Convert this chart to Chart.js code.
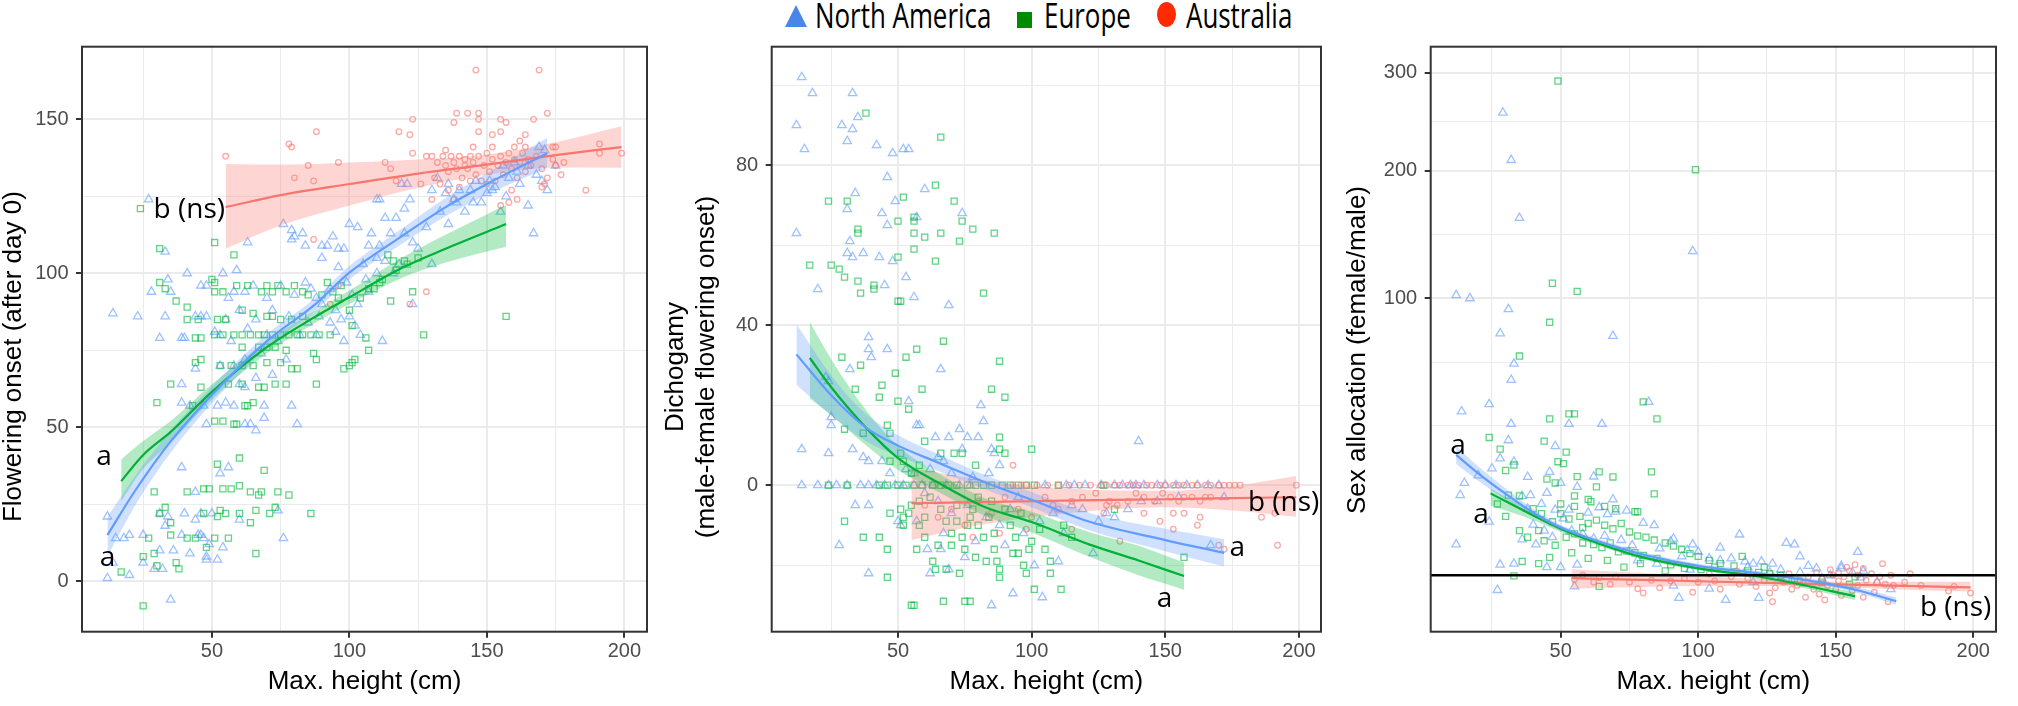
<!DOCTYPE html>
<html>
<head>
<meta charset="utf-8">
<script src="https://cdn.jsdelivr.net/npm/chart.js@4.4.1/dist/chart.umd.min.js"></script>
<style>
html,body{margin:0;padding:0;background:#fff;width:2018px;height:706px;overflow:hidden;position:relative}
canvas{position:absolute;left:0;top:0}
.lt{position:absolute;top:-3px;font-family:"Open Sans",sans-serif;font-size:35px;line-height:1;white-space:nowrap;color:#000;transform:scaleX(0.74);transform-origin:left top}
.tri{position:absolute;width:22px;height:22px;background:#4A86E8;clip-path:polygon(50% 0,100% 100%,0 100%)}
.sq{position:absolute;width:15px;height:16px;background:#008A00}
.ci{position:absolute;width:19px;height:25px;border-radius:50%;background:#FF2A00}
</style>
</head>
<body>
<div id="legend">
  <div class="tri" style="left:785px;top:5px"></div>
  <span class="lt" style="left:815px">North America</span>
  <div class="sq" style="left:1017px;top:12px"></div>
  <span class="lt" style="left:1044px">Europe</span>
  <div class="ci" style="left:1157px;top:2px"></div>
  <span class="lt" style="left:1186px">Australia</span>
</div>
<canvas id="c1" width="2018" height="706"></canvas>
<canvas id="c2" width="2018" height="706"></canvas>
<canvas id="c3" width="2018" height="706"></canvas>
<script>
// ---------------- shared axis data ----------------
const xTickMajor = [50, 100, 150, 200];
const xTickMinor = [25, 75, 125, 175];
const xLimits = [2.75, 208.25];
const xTitle = 'Max. height (cm)';
const seriesNames = ['North America', 'Europe', 'Australia'];

// ---------------- panel 1: flowering onset ----------------
const p1YTitle = ['Flowering onset (after day 0)'];
const p1YMajor = [0, 50, 100, 150];
const p1YMinor = [25, 75, 125];
const p1YLimits = [-16.4, 173.6];
const p1NorthAmerica = [[27,124],[14,87],[23,86],[28,94],[33,86],[31,79],[33,107],[34,98],[35,94],[41,100],[39,79],[40,79],[46,96],[48,96],[44,86],[46,86],[48,86],[54,100],[59,101],[63,110],[56,92],[58,94],[62,94],[51,81],[53,80],
[39,64],[44,69],[39,58],[42,57],[47,57],[48,51],[52,57],[55,58],[58,57],[53,70],[62,51],[64,51],[66,49],[69,53],[69,57],[79,57],[81,51],[60,64],[62,72],
[76,116],[79,114],[80,112],[79,111],[83,113],[84,109],[90,109],[90,105],[92,109],[94,112],[96,108],[98,108],[96,102],[100,116],[103,115],[108,113],[107,109],[111,109],[113,118],[115,113],[117,118],[120,121],[120,113],[119,129],[121,129],[122,124],[123,110],[110,124],[111,124],[105,103],[110,105],[116,100],[123,90],
[112,78],[104,80],[102,83],[97,85],[95,88],[90,90],[88,92],[86,95],[84,97],[93,95],[99,97],[106,98],[101,93],
[132,131],[136,129],[135,126],[136,116],[138,124],[139,123],[140,127],[144,127],[145,123],[148,123],[150,126],[152,127],[153,128],[157,125],[158,131],[161,133],[165,135],[168,132],[169,141],[171,140],[165,122],[167,113],[172,127],[156,135],[151,130],[130,103],
[12,21],[15,14],[12,1],[14,6],[18,14],[20,15],[20,2],[25,15],[25,6],[29,4],[32,4],[31,10],[36,10],[35,-6],[39,15],[42,9],[44,20],[46,15],[47,14],[48,7],[52,7],[54,11],[49,12],[60,20],[53,35],[56,37],[39,37],[44,29],[50,22],[74,23],[76,14],[31,22],[33,18],[34,21],[40,22],[46,22],[45,15],[48,8],
[65,96],[70,92],[72,88],[75,96],[78,86],[80,93],[82,80],[85,84],[88,80],[66,85],[70,80],[74,78],[77,72],[60,88],[63,82],[57,78],[55,85],[68,74],[72,67],[66,66],[62,63],[58,70],[89,86],[93,84],[95,81],[98,78],[100,86],[103,90],[107,94],[110,100],[113,104],[118,103],[125,108],[128,115],[133,120],[130,127],[142,120],[146,130],[155,120],[162,129],[160,136],[170,130],[175,135]];
const p1Europe = [[24,121],[31,108],[51,110],[58,106],[50,98],[51,97],[31,97],[33,95],[37,91],[41,89],[41,85],[45,85],[44,79],[46,79],[44,71],[46,72],[35,64],[46,63],[30,58],[43,57],[51,52],[54,52],[58,51],[59,51],[62,57],[63,57],[65,58],
[52,38],[60,40],[69,36],[64,29],[60,31],[67,28],[78,28],[74,29],[68,29],[57,30],[54,30],[49,30],[47,30],[41,29],[29,29],[33,24],[31,22],[35,19],[35,15],[41,14],[44,14],[51,14],[56,14],[48,11],[38,4],[37,6],[30,5],[29,9],[25,8],[27,14],[17,3],[25,-8],[66,9],[64,19],[66,23],[71,22],[73,24],[55,22],[53,23],[47,22],[86,22],[60,22],[52,21],
[51,94],[54,94],[59,96],[63,96],[68,94],[70,96],[72,94],[74,96],[77,94],[80,96],[83,94],[85,93],
[51,80],[54,80],[58,80],[61,80],[64,80],[67,80],[69,80],[72,80],[75,80],[78,80],[81,80],[83,80],[86,80],[89,80],[93,80],
[52,85],[55,85],[61,88],[65,87],[70,86],[72,86],[75,85],[79,85],[83,86],
[53,70],[57,70],[61,70],[65,70],[70,71],[75,71],[79,69],[81,69],
[56,64],[61,64],[67,63],[69,63],[73,64],[77,64],[88,64],
[61,76],[67,76],[70,76],[73,76],[77,75],[87,74],[88,72],[98,69],[101,71],
[90,93],[94,94],[96,92],[100,88],[101,83],[106,79],[107,75],[109,95],[115,91],[120,104],[125,105],[123,94],[127,80],[112,98],[116,104],[157,86],[114,106],[107,95],[102,72],[100,70],
[92,97],[97,96],[104,92],[111,97],[117,101],[121,103]];
const p1Australia = [[55,138],[78,142],[79,141],[80,131],[85,135],[88,146],[87,130],[87,111],[96,136],[93,90],[96,96],[122,90],[128,94],
[113,136],[115,134],[117,130],[118,146],[122,145],[123,150],[123,139],[126,129],[128,138],[130,124],[131,131],
[146,166],[169,166],[172,152],[139,152],[138,149],[143,152],[147,152],[147,150],[155,150],[157,149],[167,150],[147,146],[155,146],[152,145],[164,145],
[174,141],[175,141],[191,142],[191,139],[199,139],[186,127],[177,132],[178,136],[175,135],[171,129],[155,122],[158,123],
[130,138],[132,136],[134,138],[135,135],[136,133],[137,138],[138,136],[139,134],[140,138],[141,131],[142,137],[143,134],[144,138],[145,136],[146,132],[147,138],[148,130],[149,135],[150,139],[151,133],[152,137],[153,130],[154,135],[155,138],[156,132],[157,136],[158,139],[159,134],[160,137],[161,131],[162,136],[163,139],[164,133],[165,137],[166,135],[168,138],[170,134],[172,131],[174,137],[160,141],[164,141],[140,128],[144,130],[150,129],[133,129],[136,127],[138,124],[142,135],[159,127],[161,124],[170,128],[135,140],[145,141],[152,141],[162,143]];
// fitted curves: [x, fit, lower, upper]
const p1FitNorthAmerica = [[12,15,8,21],[22,29.3,24.5,34],[35,45.4,41.8,49],[50,60.5,57.8,63.2],[70,78,75.8,80.2],[87,89.5,87.4,91.6],[100,100.2,98,102.4],[119,112,109.5,114.5],[135,121.5,118.5,124.5],[150,129,125.5,132.5],[172,139,134.3,144]];
const p1FitEurope = [[17,32.5,26,39.5],[25,41,36.5,45.5],[35,48.5,45,52],[50,61.5,59,64],[70,76,74,78],[87,85.6,83.6,87.6],[100,92.2,90,94.4],[119,101.7,98.5,105],[135,108,103.5,112.5],[157,116,108.6,122.2]];
const p1FitAustralia = [[55,121.5,108,135.5],[75,125.4,115.5,135.3],[100,129,122,136],[125,132.4,127.8,137],[150,135.3,132,138.6],[175,138.4,134.4,142.6],[199,141,134.3,147.8]];
const p1Labels = [{text:'b (ns)', x:28.8, y:118.1},{text:'a', x:7.9, y:37.9},{text:'a', x:9.2, y:4.8}];

// ---------------- panel 2: dichogamy ----------------
const p2YTitle = ['Dichogamy', '(male-female flowering onset)'];
const p2YMajor = [0, 40, 80];
const p2YMinor = [-20, 20, 60, 100];
const p2YLimits = [-36.6, 109.6];
const p2NorthAmerica = [[14,102],[18,98],[33,98],[12,90],[29,90],[33,89],[35,92],[15,84],[31,86],[42,85],[48,83],[52,84],[54,84],[46,77],[60,74],[34,73],[49,71],[44,68],[31,69],[57,67],[74,68],[46,65],[12,63],[32,61],[37,58],[31,58],[33,57],[43,57],[48,56],[53,52],[45,50],[20,49],[56,47],[69,45],[39,37],[39,34],[40,32],[46,34],[32,29],[66,29],[54,21],[81,20],[82,16],[57,15],[58,15],[73,14],[69,12],[64,12],[76,12],[80,12],[85,9],[86,8],[74,9],[65,7],[67,6],[88,5],[14,9],[24,8],[33,9],[37,7],[39,6],[44,6],[47,3],[53,4],[56,3],[25,17],[25,15],[23,27],[24,26],[140,11],
[14,0],[20,0],[24,0],[27,0],[31,0],[36,0],[39,0],[42,0],[45,0],[49,0],[52,0],[56,0],[59,0],[63,0],[68,0],[73,0],[77,0],[105,0],[113,0],[116,0],[120,0],[126,0],[131,0],[134,0],[137,0],[139,0],[142,0],[147,0],[150,0],[154,0],[158,0],[162,0],[166,0],[170,0],
[34,-5],[39,-5],[28,-15],[39,-22],[50,-9],[51,-10],[57,-9],[61,-16],[62,-22],[66,-16],[67,-12],[69,-21],[75,-18],[79,-14],[85,-30],[93,-27],[104,-28],[101,-20],[110,-19],[115,-5],[119,-6],[125,-9],[128,-7],[131,-8],[123,-17],[136,-6],[141,-4],[147,-4],[155,-3],[167,-15],[172,-3],
[60,-2],[65,-4],[70,-7],[76,-5],[83,-8],[88,-10],[92,-6],[97,-12],[103,-9],[108,-7],[112,-12],[90,-15],[95,-3],[78,2],[84,3],[62,4],[70,3]];
const p2Europe = [[38,93],[66,87],[31,71],[24,71],[71,71],[64,75],[52,72],[56,67],[56,66],[35,64],[35,63],[50,66],[56,63],[60,62],[66,63],[73,61],[78,64],[86,63],[74,66],[50,57],[56,59],[64,56],[17,55],[25,55],[28,54],[30,52],[35,51],[36,48],[41,50],[41,49],[50,46],[51,46],[82,48],[57,34],[67,36],[53,32],[88,31],[29,32],[36,30],[49,28],[44,25],[43,22],[50,21],[59,24],[85,24],[90,22],[54,19],[46,15],[47,13],[37,13],[30,14],[34,24],[60,11],[66,8],[71,8],[74,8],[79,5],[88,12],[88,9],[100,9],[90,8],[51,8],[52,6],[47,6],[55,3],[58,5],
[24,0],[31,0],[43,0],[46,0],[50,0],[53,0],[56,0],[59,0],[63,0],[66,0],[69,0],[72,0],[76,0],[79,0],[82,0],[85,0],[89,0],[92,0],[95,0],[98,0],[101,0],[110,0],[127,0],
[30,-9],[37,-13],[43,-13],[46,-16],[47,-7],[51,-6],[52,-8],[52,-10],[54,-7],[58,-10],[60,-8],[57,-16],[63,-19],[64,-21],[68,-21],[73,-22],[70,-12],[72,-9],[76,-10],[77,-8],[80,-10],[82,-13],[83,-19],[87,-19],[88,-21],[88,-23],[93,-17],[97,-20],[98,-22],[99,-16],[101,-26],[107,-19],[107,-22],[111,-26],[112,-10],[115,-13],[131,-6],[157,-18],[77,-29],[75,-29],[67,-29],[46,-23],[55,-30],[56,-30],[86,-16],[70,-15],
[62,-3],[66,-6],[68,-9],[72,-5],[74,-13],[78,-6],[80,-3],[84,-8],[86,-12],[90,-6],[92,-10],[94,-13],[96,-7],[100,-14],[103,-11],[105,-16],[60,-13],[65,-15],[75,-16],[79,-18],[85,-4],[95,-17],[58,-4],[55,-5]];
const p2Australia = [[93,0],[96,0],[98,0],[102,0],[106,0],[110,0],[114,0],[118,0],[122,0],[126,0],[128,0],[131,0],[133,0],[136,0],[138,0],[140,0],[143,0],[145,0],[148,0],[150,0],[153,0],[155,0],[157,0],[160,0],[162,0],[165,0],[167,0],[170,0],[172,0],[174,0],[176,0],[178,0],[199,0],[93,5],
[115,-4],[119,-3],[124,-2],[129,-4],[132,-5],[136,-4],[139,-2],[142,-3],[146,-4],[149,-2],[152,-3],[155,-4],[157,-3],[160,-3],[163,-4],[165,-3],[167,-3],[142,-7],[148,-9],[153,-7],[153,-11],[157,-7],[163,-8],[162,-10],[133,-14],[170,-15],[172,-16],[186,-8],[192,-15],[191,-7],[115,-11],[108,-5],[128,-5],[127,-7],
[60,-5],[65,-8],[70,-6],[75,-10],[80,-4],[85,-7],[90,-3],[95,-6],[100,-8],[105,-3],[110,-6],[88,-12],[98,-11],[78,-13]];
const p2FitNorthAmerica = [[12,32.7,25.1,40.3],[25,22.5,17.5,27.5],[38,14.4,11,17.8],[50,9.9,7.3,12.5],[66,5.4,3.3,7.5],[82,0.9,-0.9,2.7],[100,-3.6,-5.5,-1.7],[122,-9.2,-11.4,-7],[150,-13.7,-16.5,-10.9],[172,-16.9,-20.3,-13.5]];
const p2FitEurope = [[17,31.8,21.7,40.8],[25,24.5,17.5,31.5],[38,14.4,10,18.8],[50,6.8,3.8,9.8],[66,0.3,-2,2.6],[82,-5.3,-7.5,-3.1],[100,-9.2,-11.8,-6.6],[122,-14.9,-18,-11.8],[140,-18.8,-22.5,-15.1],[157,-22.7,-26.1,-19.3]];
const p2FitAustralia = [[55,-4.5,-13.7,4.3],[80,-4.2,-10,1.5],[100,-4,-8,-0.2],[125,-3.7,-6.3,-1.2],[150,-3.5,-5.5,-1.4],[175,-3.2,-6.3,-0.2],[199,-3,-7.9,2.3]];
const p2Labels = [{text:'b (ns)', x:180.9, y:-6.4},{text:'a', x:174, y:-17.7},{text:'a', x:146.8, y:-30.4}];

// ---------------- panel 3: sex allocation (square-root axis) ----------------
const p3YTitle = ['Sex allocation (female/male)'];
const p3YMajor = [100, 200, 300];
const p3YMinor = [34.31, 62.87, 145.71, 247.47];
const p3YLimits = [-0.694, 330.3];
const p3RefLine = 1;
const p3NorthAmerica = [[29,257],[32,210],[35,159],[98,133],[12,102],[17,100],[31,93],[28,78.5],[69,77],[33,62],[32,54],[24,43],[14,40],[82,44],[32,35],[65,35],[53,35],[31,29],[48,27],[28,23],[33,22],[25,20],[20,18],[15,16],[13.5,13],[38,17.6],[46,19],[50,16],[62,17.7],[69,12],[70,9.4],[56,15],[12,4],[28,1.8],[33,1.9],[27,0.27],[50,1.6],[56,1.8],[45,1.6],[115,5.4],[108,3.6],[98,4],[91,4.8],[132,4.2],[135,4],[158,3.1],[140,1.7],[152,1.5],[156,1.2],[55,0.41],[91,0.44],[93,0.07],[104,0.32],[110,0.04],[122,0.07],
[36,12.8],[39,13],[43,11],[45,13.5],[48,9.8],[51,8.1],[53,9.8],[60,9.2],[64,10.3],[67,8.9],[74,9.6],[80,7.3],[84,6.9],[90,4.4],[96,3.3],[100,3.1],[104,2.4],[108,2.2],[112,2.4],[117,2.1],[120,1.9],[123,2.1],[127,1.9],[130,1.4],[137,1.2],[143,1.5],[148,1.0],[152,1.7],[159,0.87],[165,0.6],[170,0.3],[40,7],[44,6],[47,5],[54,6],[58,5.5],[62,4.8],[66,5.2],[72,4.6],[76,3.9],[86,3.5],[94,2.6],[118,1.6],[126,1.2],[145,0.8],[160,1.3],[137,2.6],[134,0.7],[120,0.6],[97,1.4],[85,1.9],[78,2.2],[41,4.0],[36,4.7],[24,7.5],[38,10]];
const p3Europe = [[49,291],[99,201],[47,110],[56,104.5],[46,85],[35,66],[80,44],[85,37],[46,37],[53,39],[55,39],[24,30],[44,28.7],[28,26],[30,19.4],[33,21],[52,25],[51,21.4],[49,22],[56,17.7],[64,19],[69,17.6],[83,19],[84,13.3],[63,15],[45,17],[48,16],[31,13],[35,12.8],[55,12.8],[60,12],[77,9.4],[78,9.4],[33,0.96],[64,0.41],[36,2.1],[42,1.9],[46,2.5],[44,4.5],[48,3.9],
[40,10],[43,9],[50,9],[53,8],[57,8.5],[60,7.2],[63,7.8],[66,6.9],[69,6.3],[72,7.2],[75,5.8],[78,5.2],[81,5.0],[84,4.6],[88,4.2],[91,3.8],[94,3.4],[97,2.9],[100,2.6],[104,2.2],[108,1.9],[113,1.7],[118,1.3],[122,1.2],[126,1.1],[130,1.0],[52,5],[55,5.5],[58,4.2],[62,4],[65,3.6],[68,4.2],[71,3.1],[74,3.2],[77,3.0],[80,2.7],[85,2.4],[90,1.8],[95,1.5],[101,1.4],[106,1.6],[54,3],[60,2.4],[67,2.2],[73,1.6],[79,1.9],[88,1.3],[35,6],[38,5],[30,8.5],[27,11],[42,6],[55,10.5],[61,11.5],[66,10.5],[70,10],[50,11],[47,7.5],[58,6.5],[124,1.6],[116,2.6],[135,0.8],[145,0.6],[155,0.5],[157,0.9]];
const p3Australia = [[55,0.74],[58,1.0],[64,0.85],[70,0.9],[78,0.32],[80,0.18],[83,0.7],[90,0.66],[95,0.8],[106,0.66],[115,0.5],[121,0.4],[126,0.18],[127,0.02],[131,0.6],[136,0.45],[139,0.08],[142,0.3],[146,0.04],[147,0.45],[151,1.2],[151,0.66],[152,0.12],[158,0.45],[160,0.08],[165,0.6],[169,0.02],[171,0.45],[175,0.6],[177,1.1],[181,0.45],[191,0.24],[193,0.41],[199,0.18],[170,1.0],
[130,0.9],[133,1.1],[137,0.7],[140,0.9],[143,1.2],[145,0.8],[148,1.4],[150,0.3],[153,0.9],[155,1.3],[156,0.25],[158,1.0],[161,0.7],[163,1.1],[164,0.2],[166,0.9],[168,0.5],[160,1.5],[154,1.6],[149,1.0],[144,0.15],[138,0.55],[134,0.3],[128,0.35],[124,0.7],[118,0.8],[112,0.9],[108,0.3],[100,0.6],[98,0.2],[86,0.35],[75,0.6],[68,0.5],[62,0.6],[104,1.1],[114,1.3],[157,1.8],[167,1.9]];
const p3FitNorthAmerica = [[12,24.1,21.3,27],[20,18.6,16.6,20.6],[30,13.3,12,14.6],[41,8.9,8.2,9.6],[50,6.5,6,7],[64,4.4,4.05,4.75],[80,2.8,2.55,3.05],[100,1.7,1.5,1.9],[119,1.2,1.02,1.38],[143,0.62,0.5,0.75],[159,0.24,0.16,0.34],[172,0.025,0.002,0.08]];
const p3FitEurope = [[24.5,13.4,10.6,14.6],[40.6,8.5,7.7,9.3],[50,6.3,5.8,6.8],[64,4.1,3.8,4.4],[80,2.5,2.3,2.7],[100,1.5,1.35,1.65],[119,1.0,0.85,1.15],[135,0.55,0.43,0.68],[157,0.1,0.04,0.2]];
const p3FitAustralia = [[54,0.82,0.32,1.43],[80,0.72,0.38,1.15],[100,0.65,0.42,0.95],[125,0.57,0.42,0.75],[150,0.5,0.38,0.63],[175,0.43,0.28,0.62],[199,0.37,0.22,0.62]];
const p3Labels = [{text:'a', x:9.9, y:24.3},{text:'a', x:18.2, y:7.26},{text:'b (ns)', x:180.6, y:-0.1}];

// ---------------- drawing ----------------
const RGB = {na:'97,156,255', eu:'0,186,56', au:'248,118,109'};
const LINE = {na:'#619CFF', eu:'#00B038', au:'#F8766D'};
const identity = v => v;
const sqrtT = v => Math.sign(v) * Math.sqrt(Math.abs(v));

function tickList(major, minor, tf, lo, hi) {
  const t = major.map(v => ({value: tf(v), mj: true, raw: v})).concat(minor.map(v => ({value: tf(v), mj: false, raw: v})));
  return t.filter(o => o.value >= lo && o.value <= hi).sort((a, b) => a.value - b.value);
}

function scatterSet(label, pts, rgb, style, r, tf) {
  return {type: 'scatter', label, data: pts.map(p => ({x: p[0], y: tf(p[1])})), showLine: false,
    pointStyle: style, pointRadius: r, radius: r, pointBorderWidth: 1.3, borderWidth: 1.3,
    pointBackgroundColor: 'rgba(0,0,0,0)', backgroundColor: 'rgba(0,0,0,0)',
    pointBorderColor: 'rgba(' + rgb + ',0.62)', borderColor: 'rgba(' + rgb + ',0.62)', order: 10};
}
function fitSets(fit, rgb, line, tf) {
  const common = {type: 'line', showLine: true, pointRadius: 0, tension: 0.4, cubicInterpolationMode: 'monotone'};
  return [
    Object.assign({}, common, {data: fit.map(r => ({x: r[0], y: tf(r[2])})), borderColor: 'rgba(0,0,0,0)', borderWidth: 0, fill: false, order: 5}),
    Object.assign({}, common, {data: fit.map(r => ({x: r[0], y: tf(r[3])})), borderColor: 'rgba(0,0,0,0)', borderWidth: 0, fill: '-1', backgroundColor: 'rgba(' + rgb + ',0.3)', order: 5}),
    Object.assign({}, common, {data: fit.map(r => ({x: r[0], y: tf(r[1])})), borderColor: line, borderWidth: 2.2, fill: false, order: 2})
  ];
}

const panelPlugin = {
  id: 'panelDeco',
  afterDatasetsDraw(chart, args, o) {
    const {ctx, chartArea: a, scales: {x, y}} = chart;
    ctx.save();
    ctx.fillStyle = '#000';
    ctx.font = '28px "Open Sans"';
    ctx.textAlign = 'left'; ctx.textBaseline = 'alphabetic';
    o.labels.forEach(l => ctx.fillText(l.text, x.getPixelForValue(l.x), y.getPixelForValue(o.tf(l.y))));
    ctx.strokeStyle = '#333333'; ctx.lineWidth = 2;
    ctx.strokeRect(a.left, a.top, a.right - a.left, a.bottom - a.top);
    ctx.font = '26px "Liberation Sans", Arial, sans-serif';
    ctx.textAlign = 'center'; ctx.textBaseline = 'middle';
    o.yTitle.forEach((t, i) => {
      ctx.save(); ctx.translate(o.yTitleX[i], o.yTitleY); ctx.rotate(-Math.PI / 2);
      ctx.fillText(t, 0, 0); ctx.restore();
    });
    ctx.restore();
  }
};

function makePanel(id, cfg) {
  const tf = cfg.tf;
  const yLo = tf(cfg.yLimits[0]), yHi = tf(cfg.yLimits[1]);
  const datasets = [];
  if (cfg.ref !== undefined) {
    datasets.push({type: 'line', data: [{x: xLimits[0], y: tf(cfg.ref)}, {x: xLimits[1], y: tf(cfg.ref)}], borderColor: '#000', borderWidth: 2.5, pointRadius: 0, fill: false, order: 0});
  }
  datasets.push(...fitSets(cfg.fits[0], RGB.na, LINE.na, tf));
  datasets.push(...fitSets(cfg.fits[1], RGB.eu, LINE.eu, tf));
  datasets.push(...fitSets(cfg.fits[2], RGB.au, LINE.au, tf));
  datasets.push(scatterSet(seriesNames[2], cfg.pts[2], RGB.au, 'circle', 2.8, tf));
  datasets.push(scatterSet(seriesNames[1], cfg.pts[1], RGB.eu, 'rect', 4.3, tf));
  datasets.push(scatterSet(seriesNames[0], cfg.pts[0], RGB.na, 'triangle', 4.9, tf));
  const gridOpts = {
    color: '#EBEBEB',
    lineWidth: c => (c.tick && c.tick.mj) ? 2 : 1,
    tickColor: c => (c.tick && c.tick.mj) ? '#333333' : 'rgba(0,0,0,0)',
    tickWidth: 2, tickLength: 6, drawTicks: true, drawOnChartArea: true
  };
  const tickFont = {family: '"Liberation Sans", Arial, sans-serif', size: 20};
  new Chart(document.getElementById(id), {
    type: 'scatter',
    data: {datasets},
    plugins: [panelPlugin],
    options: {
      responsive: false, animation: false, events: [],
      layout: {padding: {left: cfg.left - 60, right: 2018 - cfg.right, top: 46.7, bottom: 0}},
      plugins: {legend: {display: false}, tooltip: {enabled: false},
        panelDeco: {labels: cfg.labels, tf, yTitle: cfg.yTitle, yTitleX: cfg.yTitleX, yTitleY: cfg.yTitleY}},
      scales: {
        x: {type: 'linear', min: xLimits[0], max: xLimits[1],
          afterBuildTicks: s => { s.ticks = tickList(xTickMajor, xTickMinor, identity, xLimits[0], xLimits[1]); },
          afterFit: s => { s.height = 74.3; },
          ticks: {callback: (v, i, t) => t[i].mj ? String(t[i].raw) : '', font: tickFont, color: '#4D4D4D', padding: 2, maxRotation: 0, autoSkip: false},
          grid: gridOpts, border: {display: false},
          title: {display: true, text: xTitle, color: '#000', font: {family: '"Liberation Sans", Arial, sans-serif', size: 26, lineHeight: 1.2}, padding: {top: 0, bottom: 8.7}}
        },
        y: {type: 'linear', min: yLo, max: yHi,
          afterBuildTicks: s => { s.ticks = tickList(cfg.yMajor, cfg.yMinor, tf, yLo, yHi); },
          afterFit: s => { s.width = 60; },
          ticks: {callback: (v, i, t) => t[i].mj ? String(t[i].raw) : '', font: tickFont, color: '#4D4D4D', padding: 7.5, autoSkip: false},
          grid: gridOpts, border: {display: false},
          title: {display: false}
        }
      }
    }
  });
}

makePanel('c1', {left: 82, right: 647, tf: identity, yLimits: p1YLimits, yMajor: p1YMajor, yMinor: p1YMinor,
  pts: [p1NorthAmerica, p1Europe, p1Australia], fits: [p1FitNorthAmerica, p1FitEurope, p1FitAustralia],
  labels: p1Labels, yTitle: p1YTitle, yTitleX: [14.3], yTitleY: 356.6});
makePanel('c2', {left: 771.7, right: 1321, tf: identity, yLimits: p2YLimits, yMajor: p2YMajor, yMinor: p2YMinor,
  pts: [p2NorthAmerica, p2Europe, p2Australia], fits: [p2FitNorthAmerica, p2FitEurope, p2FitAustralia],
  labels: p2Labels, yTitle: p2YTitle, yTitleX: [676, 707], yTitleY: 367});
makePanel('c3', {left: 1430.7, right: 1996, tf: sqrtT, yLimits: p3YLimits, yMajor: p3YMajor, yMinor: p3YMinor,
  pts: [p3NorthAmerica, p3Europe, p3Australia], fits: [p3FitNorthAmerica, p3FitEurope, p3FitAustralia],
  labels: p3Labels, ref: p3RefLine, yTitle: p3YTitle, yTitleX: [1357.5], yTitleY: 350});
</script>
</body>
</html>
